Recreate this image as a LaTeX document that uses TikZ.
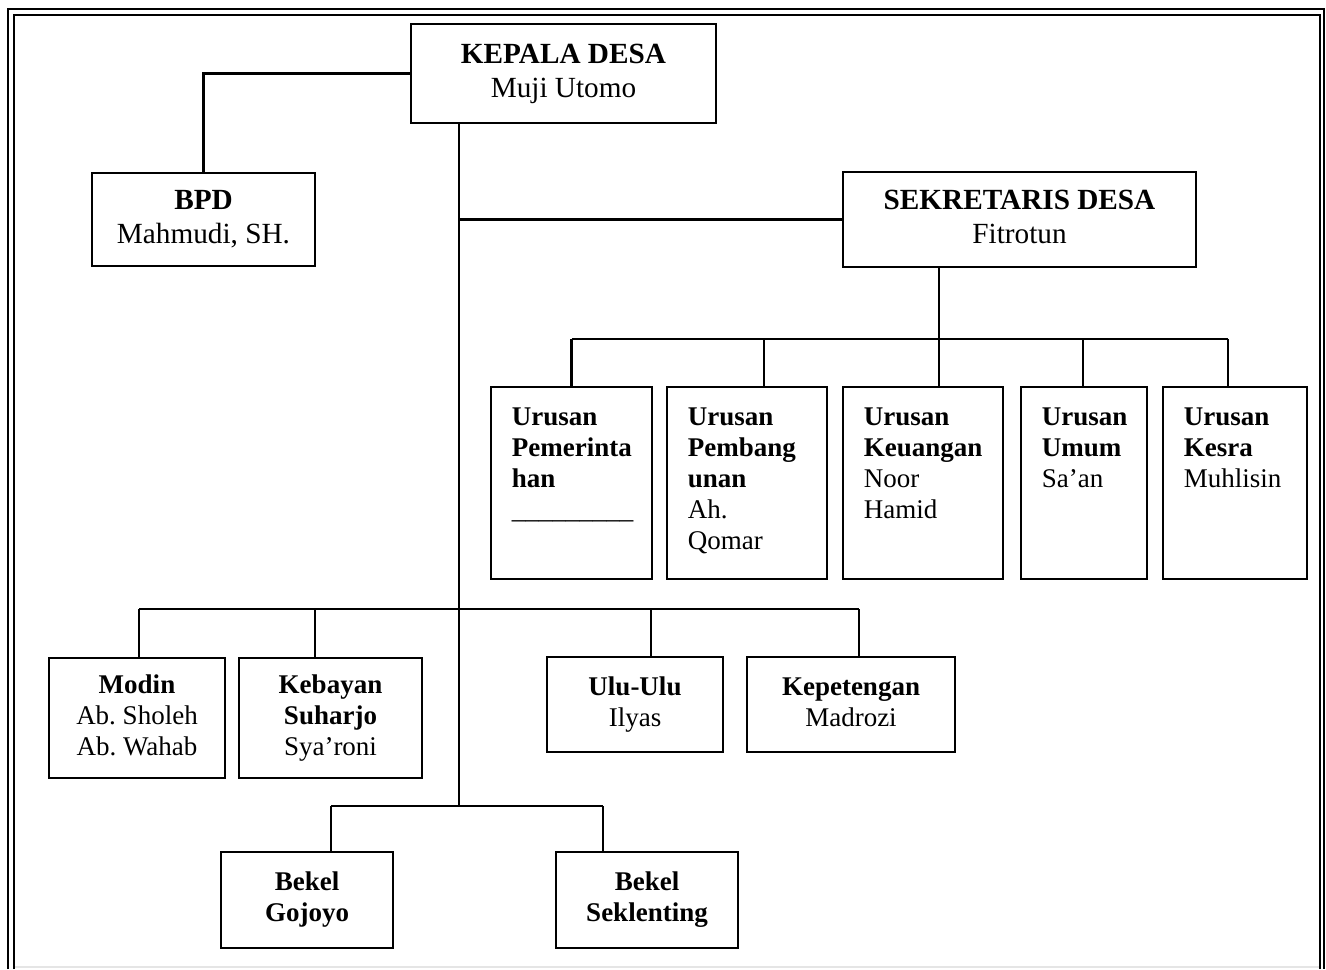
\documentclass[tikz,border=0pt]{standalone}
\usepackage{fontspec}
\setmainfont{Liberation Serif}
\newcommand{\orgbig}{\fontsize{11.7}{13.6}\selectfont\frenchspacing}
\newcommand{\orgsmall}{\fontsize{10.8}{12.4}\selectfont\frenchspacing}
\begin{document}
\begin{tikzpicture}[x=0.4pt,y=-0.4pt,
  box/.style={draw, line width=0.95pt, inner sep=0pt, align=center, font=\orgsmall},
  bigbox/.style={box, font=\orgbig},
  txt/.style={inner sep=0pt, anchor=north west, align=left, font=\orgsmall},
  conn/.style={line width=0.85pt},
  frame/.style={line width=1.1pt}]
\useasboundingbox (0,0) rectangle (1326,969);
% page frame
\draw[frame] (8,969) -- (8,9) -- (1324,9) -- (1324,969);
\draw[line width=0.9pt] (14,969) -- (14,15) -- (1320,15) -- (1320,969);
\draw[gray!20, line width=0.6pt] (15,967) -- (1319,967);

% boxes
\node[bigbox, minimum width=122pt, minimum height=39.6pt] (kepala) at (563.5,73.5) {\strut\textbf{KEPALA DESA}\\Muji Utomo\strut};
\node[bigbox, minimum width=89.2pt, minimum height=37.2pt] (bpd) at (203.5,219.5) {\strut\textbf{BPD}\\Mahmudi, SH.\strut};
\node[bigbox, minimum width=141.2pt, minimum height=38pt] (sek) at (1019.5,219.5) {\strut\textbf{SEKRETARIS DESA}\\Fitrotun\strut};

\node[box, minimum width=64.4pt, minimum height=76.8pt] (u1) at (571.5,483) {};
\node[box, minimum width=64pt, minimum height=76.8pt] (u2) at (747,483) {};
\node[box, minimum width=64pt, minimum height=76.8pt] (u3) at (923,483) {};
\node[box, minimum width=50.4pt, minimum height=76.8pt] (u4) at (1084,483) {};
\node[box, minimum width=57.6pt, minimum height=76.8pt] (u5) at (1235,483) {};
\node[txt] (t1) at ([shift={(21.5,21)}]u1.north west) {\textbf{Urusan}\\\textbf{Pemerinta}\\\textbf{han}\\\textunderscore\textunderscore\textunderscore\textunderscore\textunderscore\textunderscore\textunderscore\textunderscore\textunderscore};
\node[txt] (t2) at ([shift={(21.5,21)}]u2.north west) {\textbf{Urusan}\\\textbf{Pembang}\\\textbf{unan}\\Ah.\\Qomar};
\node[txt] (t3) at ([shift={(21.5,21)}]u3.north west) {\textbf{Urusan}\\\textbf{Keuangan}\\Noor\\Hamid};
\node[txt] (t4) at ([shift={(21.5,21)}]u4.north west) {\textbf{Urusan}\\\textbf{Umum}\\Sa’an};
\node[txt] (t5) at ([shift={(21.5,21)}]u5.north west) {\textbf{Urusan}\\\textbf{Kesra}\\Muhlisin};

\node[box, minimum width=70.4pt, minimum height=48pt] (modin) at (137,718) {\strut\textbf{Modin}\\Ab. Sholeh\\Ab. Wahab\strut};
\node[box, minimum width=73.2pt, minimum height=48pt] (kebayan) at (330.5,718) {\strut\textbf{Kebayan}\\\textbf{Suharjo}\\Sya’roni\strut};
\node[box, minimum width=70.4pt, minimum height=38pt] (ulu) at (635,704.5) {\strut\textbf{Ulu-Ulu}\\Ilyas\strut};
\node[box, minimum width=83.2pt, minimum height=38pt] (kepet) at (851,704.5) {\strut\textbf{Kepetengan}\\Madrozi\strut};
\node[box, minimum width=68.8pt, minimum height=38.4pt] (gojoyo) at (307,900) {\strut\textbf{Bekel}\\\textbf{Gojoyo}\strut};
\node[box, minimum width=72.8pt, minimum height=38.4pt] (sekl) at (647,900) {\strut\textbf{Bekel}\\\textbf{Seklenting}\strut};

% coordinates
\coordinate (spine) at (459,806);
\coordinate (sbus) at (939,339);
\coordinate (d1) at (571.5,339);
\coordinate (d2) at (764,339);
\coordinate (d4) at (1083,339);
\coordinate (d5) at (1228,339);
\coordinate (m1) at (139,609);
\coordinate (m2) at (315,609);
\coordinate (m3) at (651,609);
\coordinate (m4) at (859,609);
\coordinate (b1) at (331,806);
\coordinate (b2) at (603,806);

% connectors
\draw[conn] (kepala.south -| spine) -- (spine);
\draw[conn] (kepala.west) -| (bpd.north);
\draw[conn] (sek.west -| spine) -- (sek.west);
\draw[conn] (sek.south -| sbus) -- (sbus);
\draw[conn] (d1) -- (d5);
\draw[conn] (d1) -- (u1.north -| d1);
\draw[conn] (d2) -- (u2.north -| d2);
\draw[conn] (sbus) -- (u3.north -| sbus);
\draw[conn] (d4) -- (u4.north -| d4);
\draw[conn] (d5) -- (u5.north -| d5);
\draw[conn] (m1) -- (m4);
\draw[conn] (m1) -- (modin.north -| m1);
\draw[conn] (m2) -- (kebayan.north -| m2);
\draw[conn] (m3) -- (ulu.north -| m3);
\draw[conn] (m4) -- (kepet.north -| m4);
\draw[conn] (b1) -- (b2);
\draw[conn] (b1) -- (gojoyo.north -| b1);
\draw[conn] (b2) -- (sekl.north -| b2);
\end{tikzpicture}
\end{document}
